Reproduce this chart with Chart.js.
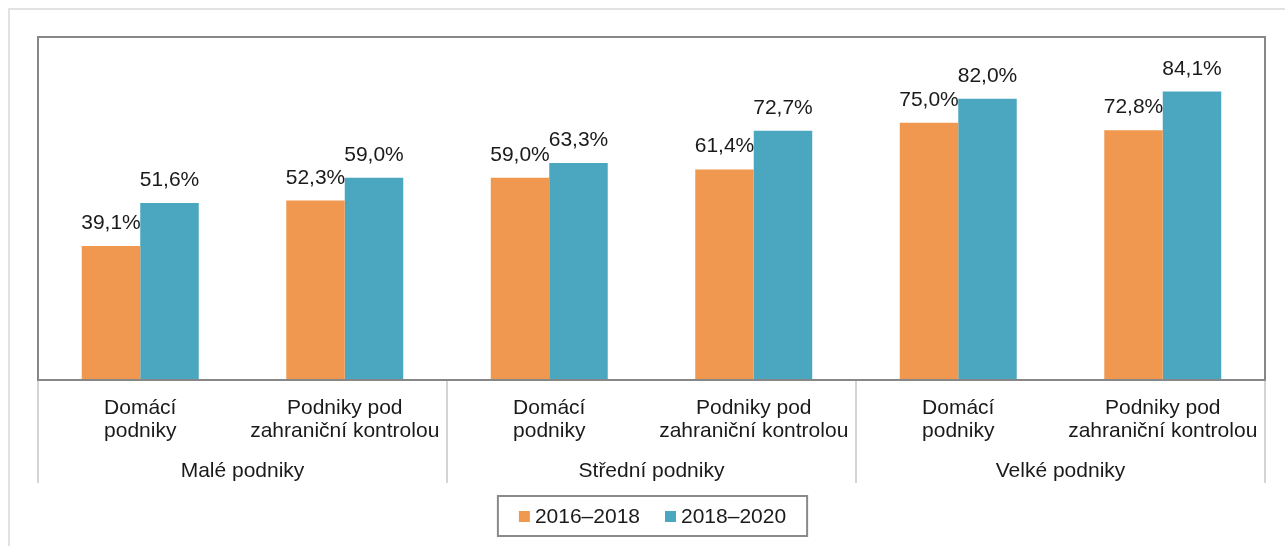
<!DOCTYPE html>
<html>
<head>
<meta charset="utf-8">
<script src="https://cdn.jsdelivr.net/npm/chart.js@4.4.0/dist/chart.umd.min.js"></script>
<style>
  html, body { margin: 0; padding: 0; background: #fff; }
  #wrap { position: relative; width: 1285px; height: 546px; overflow: hidden; }
  #frame { position: absolute; left: 8px; top: 8px; width: 1400px; height: 700px; border: 2px solid #e2e2e2; box-sizing: border-box; }
  canvas { position: absolute; left: 0; top: 0; }
</style>
</head>
<body>
<div id="wrap">
  <div id="frame"></div>
  <canvas id="canvas1" width="1285" height="546"></canvas>
</div>
<script>
const categories = [
  ['Domácí', 'podniky'],
  ['Podniky pod', 'zahraniční kontrolou'],
  ['Domácí', 'podniky'],
  ['Podniky pod', 'zahraniční kontrolou'],
  ['Domácí', 'podniky'],
  ['Podniky pod', 'zahraniční kontrolou']
]
const groups = ['Malé podniky', 'Střední podniky', 'Velké podniky']
const seriesNames = ['2016–2018', '2018–2020']
const values2016 = [39.1, 52.3, 59.0, 61.4, 75.0, 72.8]
const values2018 = [51.6, 59.0, 63.3, 72.7, 82.0, 84.1]
const colors = ['#F0984F', '#4BA7BF']

const FONT = '"Liberation Sans", Arial, sans-serif'
const TEXT = '#1a1a1a'

const fmt = v => v.toFixed(1).replace('.', ',') + '%'

const extras = {
  id: 'extras',
  afterDatasetsDraw(chart) {
    const c = chart.ctx
    const area = chart.chartArea

    // value labels
    c.save()
    c.font = '21px ' + FONT
    c.fillStyle = TEXT
    c.textAlign = 'center'
    c.textBaseline = 'alphabetic'
    chart.data.datasets.forEach((ds, di) => {
      chart.getDatasetMeta(di).data.forEach((bar, i) => {
        c.fillText(fmt(ds.data[i]), bar.x, bar.y - 17)
      })
    })
    c.restore()

    // plot box
    c.save()
    c.strokeStyle = '#878787'
    c.lineWidth = 2
    c.strokeRect(area.left, area.top, area.right - area.left, area.bottom - area.top)
    c.restore()

    // group separators and group labels
    const step = (area.right - area.left) / groups.length
    c.save()
    c.strokeStyle = '#d4d4d4'
    c.lineWidth = 2
    for (let g = 0; g <= groups.length; g++) {
      const gx = Math.round(area.left + g * step)
      c.beginPath()
      c.moveTo(gx, area.bottom + 1)
      c.lineTo(gx, 483)
      c.stroke()
    }
    c.font = '21px ' + FONT
    c.fillStyle = TEXT
    c.textAlign = 'center'
    c.textBaseline = 'alphabetic'
    groups.forEach((g, i) => {
      c.fillText(g, area.left + step * (i + 0.5), 477)
    })
    c.restore()

    // legend
    c.save()
    c.font = '21px ' + FONT
    const box = 11, gapBox = 5, gapItem = 25, padX = 21
    const widths = seriesNames.map(n => c.measureText(n).width)
    let total = padX * 2 + widths.reduce((a, b) => a + b, 0) + seriesNames.length * (box + gapBox) + gapItem * (seriesNames.length - 1)
    const cx = (area.left + area.right) / 2 + 1
    const lx = cx - total / 2
    c.strokeStyle = '#8a8a8a'
    c.lineWidth = 2
    c.strokeRect(lx, 496, total, 40)
    let px = lx + padX
    seriesNames.forEach((n, i) => {
      c.fillStyle = colors[i]
      c.fillRect(px, 511, box, box)
      px += box + gapBox
      c.fillStyle = TEXT
      c.textAlign = 'left'
      c.textBaseline = 'alphabetic'
      c.fillText(n, px, 523)
      px += widths[i] + gapItem
    })
    c.restore()
  }
}

const ctx = document.getElementById('canvas1').getContext('2d')
const myChart = new Chart(ctx, {
  type: 'bar',
  data: {
    labels: categories,
    datasets: [
      { label: seriesNames[0], data: values2016, backgroundColor: colors[0] },
      { label: seriesNames[1], data: values2018, backgroundColor: colors[1] }
    ]
  },
  options: {
    responsive: false,
    animation: false,
    devicePixelRatio: 1,
    layout: { padding: { left: 38, right: 20, top: 37, bottom: 0 } },
    datasets: { bar: { categoryPercentage: 0.572, barPercentage: 1 } },
    plugins: { legend: { display: false }, tooltip: { enabled: false } },
    scales: {
      x: {
        grid: { display: false, drawTicks: false },
        border: { display: false },
        ticks: {
          autoSkip: false, maxRotation: 0, minRotation: 0, padding: 17,
          color: TEXT,
          font: { family: FONT, size: 21, lineHeight: 1.1 }
        },
        afterFit: s => { s.height = 166 }
      },
      y: { display: false, min: 0, max: 100 }
    }
  },
  plugins: [extras]
})
</script>
</body>
</html>
